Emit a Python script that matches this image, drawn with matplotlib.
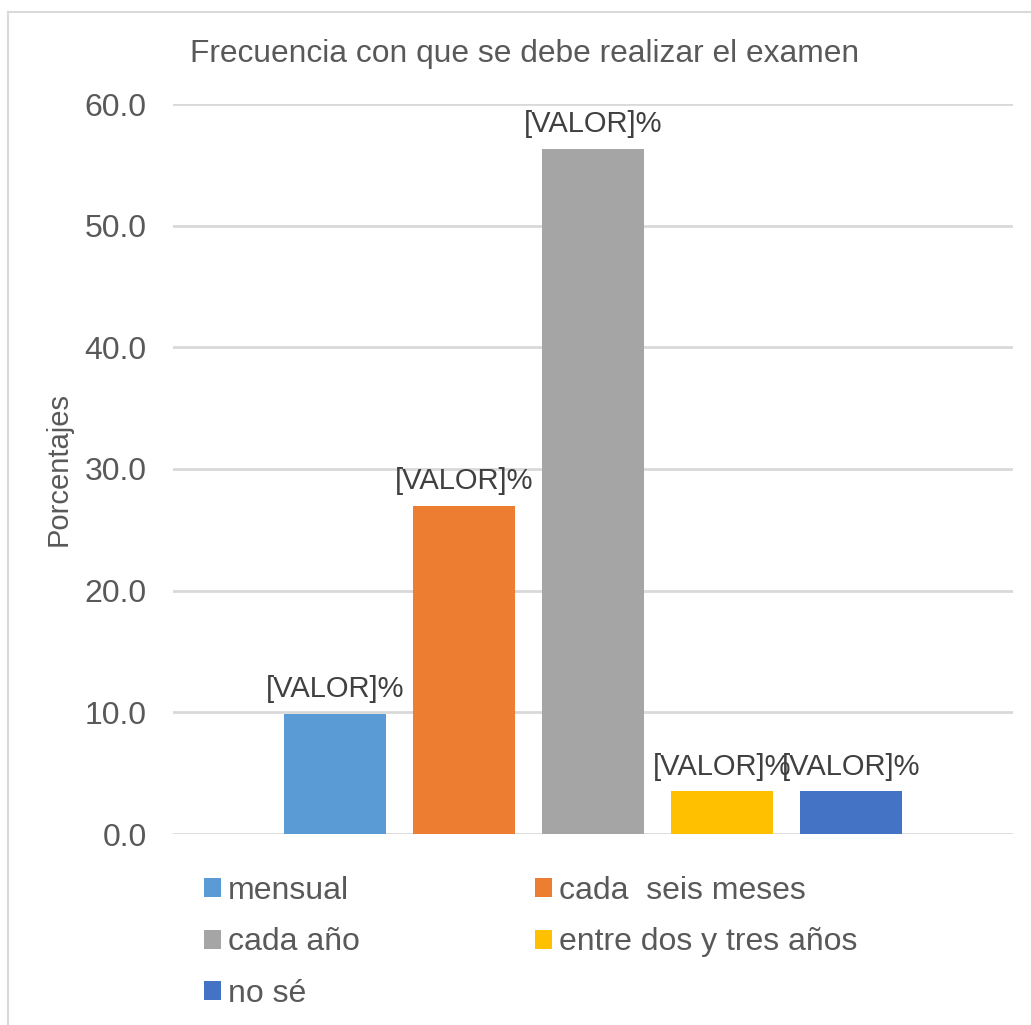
import matplotlib.pyplot as plt
from matplotlib.patches import Patch
from matplotlib.lines import Line2D

plt.rcParams['font.family'] = ['Liberation Sans', 'DejaVu Sans']

# data
categories = ['mensual', 'cada  seis meses', 'cada año', 'entre dos y tres años', 'no sé']
values = [9.9, 27.0, 56.3, 3.5, 3.5]
colors = ['#5B9BD5', '#ED7D31', '#A5A5A5', '#FFC000', '#4472C4']
yticks = [0, 10, 20, 30, 40, 50, 60]

text_col = '#595959'
grid_col = '#D9D9D9'

fig = plt.figure(figsize=(10.31, 10.25), dpi=100)
ax = fig.add_axes([173 / 1031, 1 - 834 / 1025, 840 / 1031, 730 / 1025])

x = list(range(len(categories)))
bars = ax.bar(x, values, width=0.79, color=colors, zorder=3)

for b in bars:
    ax.annotate('[VALOR]%', (b.get_x() + b.get_width() / 2, b.get_height()),
                xytext=(0, 12), textcoords='offset points', ha='center', va='baseline',
                fontsize=21, color='#404040', zorder=4)

ax.set_xlim(-1.256, 5.256)
ax.set_ylim(0, 60)
ax.set_yticks(yticks)
ax.set_yticklabels([f'{v:.1f}' for v in yticks])
ax.set_xticks([])
ax.tick_params(axis='y', length=0, pad=19, labelsize=23, labelcolor=text_col)
for s in ax.spines.values():
    s.set_visible(False)
ax.grid(axis='y', color=grid_col, linewidth=2, zorder=0)
ax.set_axisbelow(True)

ax.set_ylabel('Porcentajes', fontsize=21, color=text_col)
ax.yaxis.set_label_coords(-100 / 840, 0.5)

fig.text(525 / 1031, 1 - 62 / 1025, 'Frecuencia con que se debe realizar el examen',
         ha='center', va='baseline', fontsize=22.9, color=text_col)

# legend, column-major order so rows read left to right
handles = [Patch(facecolor=c, edgecolor='none') for c in colors]
order = [0, 2, 4, 1, 3]
leg = fig.legend([handles[i] for i in order], [categories[i] for i in order],
                 ncol=2, loc='upper left', bbox_to_anchor=(204 / 1031, 1 - 876 / 1025),
                 frameon=False, fontsize=23, handlelength=0.53, handleheight=0.53,
                 handletextpad=0.22, columnspacing=5.47, labelspacing=0.67,
                 borderpad=0, borderaxespad=0)
for t in leg.get_texts():
    t.set_color(text_col)

# chart border (only top and left visible in the crop)
fig.add_artist(Line2D([8 / 1031, 8 / 1031], [0, 1 - 12 / 1025], color=grid_col, lw=1.5))
fig.add_artist(Line2D([8 / 1031, 1], [1 - 12 / 1025, 1 - 12 / 1025], color=grid_col, lw=1.5))

fig.savefig('out.png', dpi=100)
